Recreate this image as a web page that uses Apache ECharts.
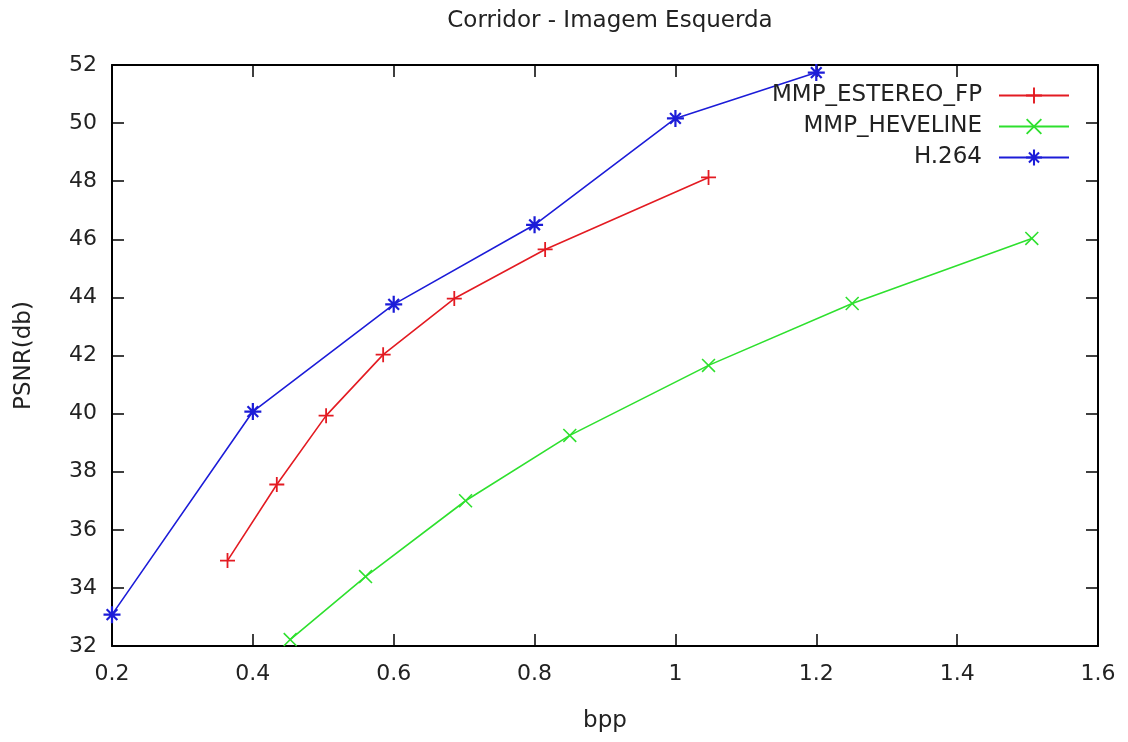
<!DOCTYPE html>
<html><head><meta charset="utf-8">
<script src="https://cdn.jsdelivr.net/npm/echarts@6/dist/echarts.min.js"></script>
<style>html,body{margin:0;padding:0;background:#fff}#c{width:1128px;height:742px}</style>
</head><body><div id="c"></div>
<script>
const titleText = 'Corridor - Imagem Esquerda';
const xName = 'bpp';
const yName = 'PSNR(db)';
const seriesNames = ['MMP_ESTEREO_FP', 'MMP_HEVELINE', 'H.264'];
const estereoX = [0.364, 0.434, 0.504, 0.585, 0.686, 0.815, 1.047];
const estereoY = [34.94, 37.56, 39.93, 42.03, 43.96, 45.65, 48.13];
const hevelineX = [0.453, 0.560, 0.702, 0.850, 1.047, 1.251, 1.506];
const hevelineY = [32.22, 34.39, 37.00, 39.25, 41.66, 43.79, 46.03];
const h264X = [0.2, 0.4, 0.6, 0.8, 1.0, 1.2];
const h264Y = [33.08, 40.07, 43.76, 46.50, 50.16, 51.74];

const zip = (xs, ys) => xs.map((x, i) => [x, ys[i]]);
const PLUS = 'path://M4.4,0h1.2v4.4h4.4v1.2h-4.4v4.4h-1.2v-4.4h-4.4v-1.2h4.4z';
const CROSS = 'path://M0,0.8L0.8,0L10,9.2L9.2,10Z M9.2,0L10,0.8L0.8,10L0,9.2Z';
const STAR = 'path://M4.35,0h1.3v4.35h4.35v1.3h-4.35v4.35h-1.3v-4.35h-4.35v-1.3h4.35z M1.4,2.3L2.3,1.4L8.6,7.7L7.7,8.6Z M7.7,1.4L8.6,2.3L2.3,8.6L1.4,7.7Z';
const colors = ['#e31b22', '#2ee02e', '#1c1cd8'];
const font = 'DejaVu Sans';

function mk(name, data, sym, size, color) {
  return {
    name, type: 'line', data, symbol: sym, symbolSize: size, showSymbol: true,
    lineStyle: { color, width: 1.6 }, itemStyle: { color },
    emphasis: { disabled: true }, animation: false, z: 3
  };
}

const chart = echarts.init(document.getElementById('c'));
const axisCommon = {
  type: 'value', splitLine: { show: false },
  axisLine: { show: true, onZero: false, lineStyle: { color: '#000', width: 2 } },
  axisTick: { show: true, inside: true, length: 12, lineStyle: { color: '#000', width: 1.5 } }
};
chart.setOption({
  backgroundColor: '#fff',
  animation: false,
  title: { text: titleText, left: 605, textAlign: 'center', top: 5,
    textStyle: { fontFamily: font, fontSize: 23, fontWeight: 'normal', color: '#222' } },
  grid: { left: 112, right: 30, top: 65, bottom: 96, containLabel: false },
  legend: {
    data: seriesNames, orient: 'vertical', right: 58, top: 84, align: 'right',
    padding: 0, itemWidth: 70, itemHeight: 20, itemGap: 8,
    textStyle: { fontFamily: font, fontSize: 23, color: '#222', lineHeight: 20, padding: [0, 12, 0, 0] },
    backgroundColor: 'transparent'
  },
  xAxis: [
    Object.assign({}, axisCommon, {
      min: 0.2, max: 1.6, interval: 0.2, position: 'bottom',
      name: xName, nameLocation: 'middle', nameGap: 64,
      nameTextStyle: { fontFamily: font, fontSize: 23, color: '#222' },
      axisLabel: { fontFamily: font, fontSize: 22, color: '#222', margin: 17,
        formatter: v => String(Math.round(v * 10) / 10) }
    }),
    Object.assign({}, axisCommon, {
      min: 0.2, max: 1.6, interval: 0.2, position: 'top', axisLabel: { show: false }
    })
  ],
  yAxis: [
    Object.assign({}, axisCommon, {
      min: 32, max: 52, interval: 2, position: 'left',
      name: yName, nameLocation: 'middle', nameGap: 76, nameRotate: 90,
      nameTextStyle: { fontFamily: font, fontSize: 23, color: '#222' },
      axisLabel: { fontFamily: font, fontSize: 22, color: '#222', margin: 15 }
    }),
    Object.assign({}, axisCommon, {
      min: 32, max: 52, interval: 2, position: 'right', axisLabel: { show: false }
    })
  ],
  series: [
    mk(seriesNames[0], zip(estereoX, estereoY), PLUS, 15, colors[0]),
    mk(seriesNames[1], zip(hevelineX, hevelineY), CROSS, 14, colors[1]),
    mk(seriesNames[2], zip(h264X, h264Y), STAR, 17, colors[2])
  ]
});
</script></body></html>
